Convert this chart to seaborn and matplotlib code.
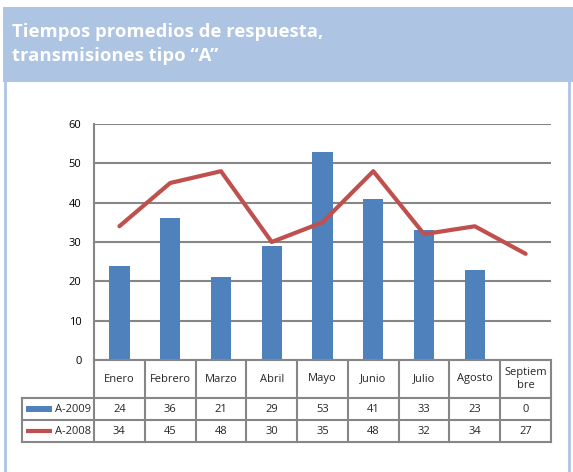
import matplotlib
matplotlib.use("Agg")
import matplotlib.pyplot as plt
import seaborn as sns
import pandas as pd
from matplotlib.patches import Rectangle
from matplotlib.lines import Line2D

months = ["Enero", "Febrero", "Marzo", "Abril", "Mayo", "Junio", "Julio", "Agosto", "Septiem\nbre"]
a2009 = [24, 36, 21, 29, 53, 41, 33, 23, 0]
a2008 = [34, 45, 48, 30, 35, 48, 32, 34, 27]
series_names = ["A-2009", "A-2008"]
title_lines = "Tiempos promedios de respuesta,\ntransmisiones tipo \u201cA\u201d"

sns.set_theme(style="white")
plt.rcParams["font.family"] = ["Open Sans", "DejaVu Sans"]

W, H = 573, 472
fig = plt.figure(figsize=(W / 100, H / 100), dpi=100)

def fx(x):
    return x / W

def fy(y):
    return 1 - y / H

BLUE = "#4f81bd"
RED = "#c0504d"
GRID = "#868686"
BAND = "#adc4e2"

# title band and frame
fig.patches.append(Rectangle((fx(3), fy(82)), fx(573 - 3), 75 / H, transform=fig.transFigure,
                             facecolor=BAND, edgecolor="none", zorder=0))
fig.lines.append(Line2D([fx(4.5), fx(4.5)], [fy(82), fy(472)], transform=fig.transFigure, color=BAND, lw=2))
fig.lines.append(Line2D([fx(569), fx(569)], [fy(82), fy(472)], transform=fig.transFigure, color=BAND, lw=2))
fig.text(fx(12), fy(44), title_lines, color="white", fontsize=13.3, fontweight="bold",
         ha="left", va="center", linespacing=1.45, family=["Open Sans", "DejaVu Sans"])

# main chart
L, R, T, B = 94, 551, 124, 360
ax = fig.add_axes([fx(L), fy(B), (R - L) / W, (B - T) / H])
df = pd.DataFrame({"mes": months, "A-2009": a2009, "A-2008": a2008})
x = list(range(len(months)))
sns.barplot(data=df, x="mes", y="A-2009", color=BLUE, width=0.4, ax=ax, saturation=1,
            linewidth=0, zorder=3)
sns.lineplot(x=x, y=a2008, color=RED, lw=3, ax=ax, zorder=4)
ax.set_xlim(-0.5, len(months) - 0.5)
ax.set_ylim(0, 60)
ax.set_yticks(range(0, 61, 10))
ax.yaxis.grid(True, color=GRID, lw=1.5, zorder=0)
ax.set_xticks([])
ax.set_xlabel("")
ax.set_ylabel("")
for s in ["top", "right", "bottom"]:
    ax.spines[s].set_visible(False)
ax.spines["left"].set_color(GRID)
ax.spines["left"].set_linewidth(1.5)
ax.tick_params(axis="y", length=0, pad=9, labelsize=8, labelcolor="black")

# data table
TB = 442
tax = fig.add_axes([fx(L), fy(TB), (R - L) / W, (TB - B) / H])
tax.set_xlim(-0.5, len(months) - 0.5)
tax.set_ylim(TB - B, 0)
tax.axis("off")
colw = (R - L) / len(months)
left_ext = -0.5 - (L - 22) / colw
rows_y = [0, 38, 60, 82]
lc = dict(color=GRID, lw=1.5, clip_on=False, solid_capstyle="projecting")
# horizontal lines
tax.plot([-0.5, len(months) - 0.5], [rows_y[0], rows_y[0]], **lc)
for yy in rows_y[1:]:
    tax.plot([left_ext, len(months) - 0.5], [yy, yy], **lc)
# vertical lines
for i in range(len(months) + 1):
    tax.plot([i - 0.5, i - 0.5], [rows_y[0], rows_y[3]], **lc)
tax.plot([left_ext, left_ext], [rows_y[1], rows_y[3]], **lc)
for i, m in enumerate(months):
    tax.text(i, (rows_y[0] + rows_y[1]) / 2, m, ha="center", va="center", fontsize=8, linespacing=1.3)
    tax.text(i, (rows_y[1] + rows_y[2]) / 2, str(a2009[i]), ha="center", va="center", fontsize=8)
    tax.text(i, (rows_y[2] + rows_y[3]) / 2, str(a2008[i]), ha="center", va="center", fontsize=8)
# legend keys
ky1 = (rows_y[1] + rows_y[2]) / 2
ky2 = (rows_y[2] + rows_y[3]) / 2
k0 = left_ext + 4 / colw
k1 = left_ext + 30 / colw
tax.add_patch(Rectangle((k0, ky1 - 3), k1 - k0, 6, facecolor=BLUE, edgecolor="none", clip_on=False))
tax.plot([k0, k1], [ky2, ky2], color=RED, lw=3, clip_on=False, solid_capstyle="butt")
tax.text(-0.5 - 3 / colw, ky1, series_names[0], ha="right", va="center", fontsize=8)
tax.text(-0.5 - 3 / colw, ky2, series_names[1], ha="right", va="center", fontsize=8)

fig.savefig("out.png", dpi=100)
